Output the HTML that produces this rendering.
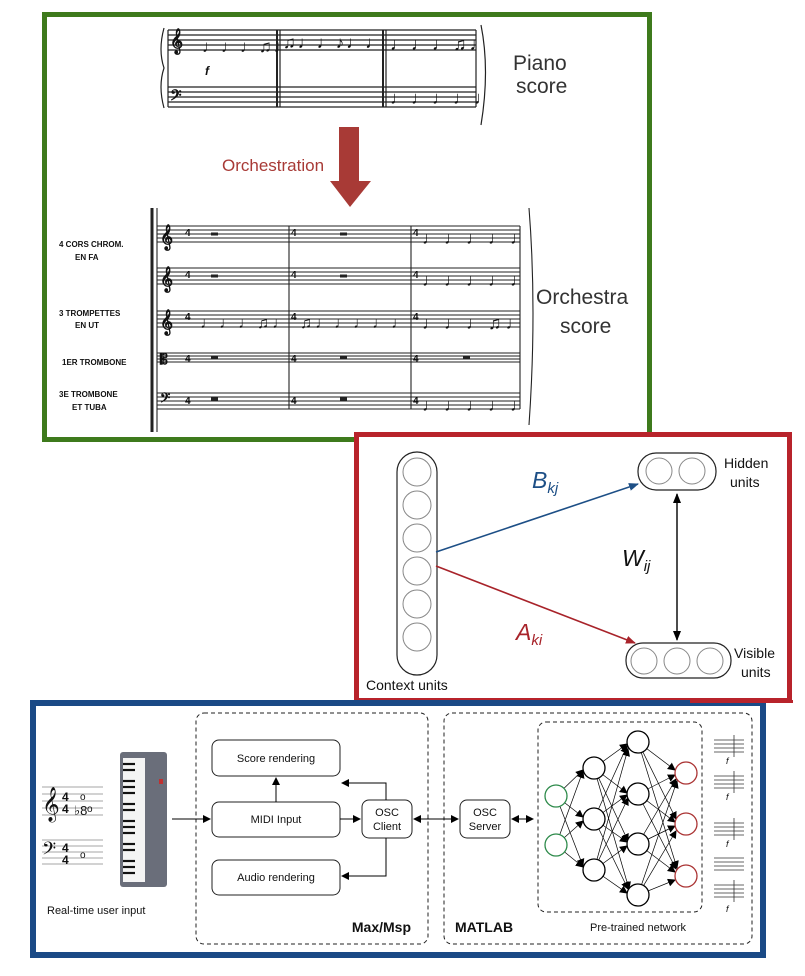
<!DOCTYPE html>
<html><head><meta charset="utf-8"><style>
html,body{margin:0;padding:0;background:#fff;}
svg{display:block;}
text{font-family:"Liberation Sans",sans-serif;}
</style></head><body>
<svg width="805" height="976" viewBox="0 0 805 976" xmlns="http://www.w3.org/2000/svg">
<defs>
<marker id="ak" markerWidth="8" markerHeight="8" refX="7" refY="4" orient="auto-start-reverse" markerUnits="userSpaceOnUse"><path d="M0,0 L8,4 L0,8 z" fill="#000"/></marker>
<marker id="ab" markerWidth="10" markerHeight="8" refX="9" refY="4" orient="auto" markerUnits="userSpaceOnUse"><path d="M0,0 L10,4 L0,8 z" fill="#1d4f86"/></marker>
<marker id="ar" markerWidth="10" markerHeight="8" refX="9" refY="4" orient="auto" markerUnits="userSpaceOnUse"><path d="M0,0 L10,4 L0,8 z" fill="#a8232a"/></marker>
<marker id="ak2" markerWidth="10" markerHeight="8" refX="9" refY="4" orient="auto-start-reverse" markerUnits="userSpaceOnUse"><path d="M0,0 L10,4 L0,8 z" fill="#000"/></marker>
</defs>

<!-- GREEN PANEL -->
<rect x="44.5" y="14.5" width="605" height="425" fill="#fff" stroke="#3e7a1c" stroke-width="5"/>

<!-- piano score -->
<g stroke="#222" stroke-width="1.2">
  <line x1="168" y1="30" x2="476" y2="30"/><line x1="168" y1="35" x2="476" y2="35"/><line x1="168" y1="40" x2="476" y2="40"/><line x1="168" y1="45" x2="476" y2="45"/><line x1="168" y1="50" x2="476" y2="50"/>
  <line x1="168" y1="87" x2="476" y2="87"/><line x1="168" y1="92" x2="476" y2="92"/><line x1="168" y1="97" x2="476" y2="97"/><line x1="168" y1="102" x2="476" y2="102"/><line x1="168" y1="107" x2="476" y2="107"/>
  <line x1="168" y1="30" x2="168" y2="107"/>
  <line x1="277" y1="30" x2="277" y2="107" stroke-width="2"/><line x1="280" y1="30" x2="280" y2="107"/>
  <line x1="383" y1="30" x2="383" y2="107" stroke-width="2"/><line x1="386" y1="30" x2="386" y2="107"/>
  <line x1="476" y1="30" x2="476" y2="107"/>
  <path d="M164,28 Q158,50 164,68 Q158,86 164,108" fill="none"/>
  <path d="M481,25 Q490,70 481,125" fill="none"/>
</g>
<g fill="#111" font-family="Liberation Serif,serif" font-weight="bold">
  <text x="170" y="48" font-size="22">𝄞</text>
  <text x="170" y="103" font-size="18">𝄢</text>
  <text x="202" y="52" font-size="17" letter-spacing="2">♩♩♩♫♩</text>
  <text x="283" y="48" font-size="17" letter-spacing="2">♫♩♩♪♩♩</text>
  <text x="390" y="50" font-size="18" letter-spacing="3">♩♩♩♫♩</text>
  <text x="390" y="104" font-size="18" letter-spacing="3">♩♩♩♩♩</text>
  <text x="205" y="75" font-size="12" font-style="italic">f</text>
</g>
<text x="513" y="70" font-size="21" fill="#333">Piano</text>
<text x="516" y="93" font-size="21" fill="#333">score</text>

<!-- arrow -->
<rect x="339" y="127" width="20" height="55" fill="#a83a36"/>
<polygon points="330,181 371,181 350,207" fill="#a83a36"/>
<text x="222" y="171" font-size="17" fill="#a83a36">Orchestration</text>

<!-- orchestra score -->
<g stroke="#222" stroke-width="1.1">
  <line x1="152" y1="208" x2="152" y2="432" stroke-width="3"/>
  <line x1="157" y1="208" x2="157" y2="432"/>
  <line x1="157" y1="226" x2="520" y2="226"/><line x1="157" y1="230" x2="520" y2="230"/><line x1="157" y1="234" x2="520" y2="234"/><line x1="157" y1="238" x2="520" y2="238"/><line x1="157" y1="242" x2="520" y2="242"/>
  <line x1="157" y1="268" x2="520" y2="268"/><line x1="157" y1="272" x2="520" y2="272"/><line x1="157" y1="276" x2="520" y2="276"/><line x1="157" y1="280" x2="520" y2="280"/><line x1="157" y1="284" x2="520" y2="284"/>
  <line x1="157" y1="311" x2="520" y2="311"/><line x1="157" y1="315" x2="520" y2="315"/><line x1="157" y1="319" x2="520" y2="319"/><line x1="157" y1="323" x2="520" y2="323"/><line x1="157" y1="327" x2="520" y2="327"/>
  <line x1="157" y1="353" x2="520" y2="353"/><line x1="157" y1="356" x2="520" y2="356"/><line x1="157" y1="359" x2="520" y2="359"/><line x1="157" y1="362" x2="520" y2="362"/>
  <line x1="157" y1="393" x2="520" y2="393"/><line x1="157" y1="397" x2="520" y2="397"/><line x1="157" y1="401" x2="520" y2="401"/><line x1="157" y1="405" x2="520" y2="405"/><line x1="157" y1="409" x2="520" y2="409"/>
  <line x1="289" y1="226" x2="289" y2="409"/><line x1="411" y1="226" x2="411" y2="409"/><line x1="520" y1="226" x2="520" y2="409"/>
  <path d="M529,208 Q537,310 529,425" fill="none"/>
</g>
<g stroke="#222" stroke-width="3">
  <line x1="211" y1="234" x2="218" y2="234"/><line x1="340" y1="234" x2="347" y2="234"/>
  <line x1="211" y1="276" x2="218" y2="276"/><line x1="340" y1="276" x2="347" y2="276"/>
  <line x1="211" y1="357" x2="218" y2="357"/><line x1="340" y1="357" x2="347" y2="357"/><line x1="463" y1="357" x2="470" y2="357"/>
  <line x1="211" y1="399" x2="218" y2="399"/><line x1="340" y1="399" x2="347" y2="399"/>
</g>
<g fill="#111" font-family="Liberation Serif,serif" font-weight="bold">
  <text x="160" y="244" font-size="22">𝄞</text>
  <text x="160" y="286" font-size="22">𝄞</text>
  <text x="160" y="329" font-size="22">𝄞</text>
  <text x="160" y="405" font-size="16">𝄢</text>
  <text x="160" y="364" font-size="14">𝄡</text>
  <g font-size="10">
   <text x="185" y="236">4</text><text x="185" y="278">4</text><text x="185" y="320">4</text><text x="185" y="362">4</text><text x="185" y="404">4</text>
   <text x="291" y="236">4</text><text x="291" y="278">4</text><text x="291" y="320">4</text><text x="291" y="362">4</text><text x="291" y="404">4</text>
   <text x="413" y="236">4</text><text x="413" y="278">4</text><text x="413" y="320">4</text><text x="413" y="362">4</text><text x="413" y="404">4</text>
  </g>
  <text x="422" y="244" font-size="18" letter-spacing="4">♩♩♩♩♩</text>
  <text x="422" y="286" font-size="18" letter-spacing="4">♩♩♩♩♩</text>
  <text x="200" y="328" font-size="16" letter-spacing="3">♩♩♩♫♩</text>
  <text x="300" y="328" font-size="16" letter-spacing="3">♫♩♩♩♩♩</text>
  <text x="422" y="329" font-size="18" letter-spacing="4">♩♩♩♫♩</text>
  <text x="422" y="411" font-size="18" letter-spacing="4">♩♩♩♩♩</text>
  <g font-size="8" font-family="Liberation Mono,monospace">
   <text x="59" y="247">4 CORS CHROM.</text><text x="75" y="260">EN FA</text>
   <text x="59" y="316">3 TROMPETTES</text><text x="75" y="328">EN UT</text>
   <text x="62" y="365">1ER TROMBONE</text>
   <text x="59" y="397">3E TROMBONE</text><text x="72" y="410">ET TUBA</text>
  </g>
</g>
<text x="536" y="304" font-size="21" fill="#333">Orchestra</text>
<text x="560" y="333" font-size="21" fill="#333">score</text>

<!-- RED PANEL -->
<rect x="356.5" y="434.5" width="433" height="266" fill="#fff" stroke="#b8232b" stroke-width="5"/>
<rect x="397" y="452" width="40" height="223" rx="20" fill="none" stroke="#222" stroke-width="1.2"/>
<g fill="none" stroke="#888" stroke-width="1">
 <circle cx="417" cy="472" r="14"/><circle cx="417" cy="505" r="14"/><circle cx="417" cy="538" r="14"/><circle cx="417" cy="571" r="14"/><circle cx="417" cy="604" r="14"/><circle cx="417" cy="637" r="14"/>
 <circle cx="659" cy="471" r="13"/><circle cx="692" cy="471" r="13"/>
 <circle cx="644" cy="661" r="13"/><circle cx="677" cy="661" r="13"/><circle cx="710" cy="661" r="13"/>
</g>
<rect x="638" y="453" width="78" height="37" rx="18" fill="none" stroke="#222" stroke-width="1.2"/>
<rect x="626" y="643" width="105" height="35" rx="17" fill="none" stroke="#222" stroke-width="1.2"/>
<line x1="436" y1="552" x2="638" y2="484" stroke="#1d4f86" stroke-width="1.6" marker-end="url(#ab)"/>
<line x1="436" y1="566" x2="635" y2="643" stroke="#a8232a" stroke-width="1.6" marker-end="url(#ar)"/>
<line x1="677" y1="494" x2="677" y2="640" stroke="#000" stroke-width="1.4" marker-start="url(#ak2)" marker-end="url(#ak2)"/>
<text x="532" y="488" font-size="23" font-style="italic" font-family="Liberation Serif,serif" fill="#1d4f86">B<tspan font-size="15" dy="5">kj</tspan></text>
<text x="622" y="566" font-size="23" font-style="italic" font-family="Liberation Serif,serif" fill="#111">W<tspan font-size="15" dy="5">ij</tspan></text>
<text x="516" y="640" font-size="23" font-style="italic" font-family="Liberation Serif,serif" fill="#a8232a">A<tspan font-size="15" dy="5">ki</tspan></text>
<text x="724" y="468" font-size="14" fill="#111">Hidden</text><text x="730" y="487" font-size="14" fill="#111">units</text>
<text x="734" y="658" font-size="14" fill="#111">Visible</text><text x="741" y="677" font-size="14" fill="#111">units</text>
<text x="366" y="690" font-size="14" fill="#111">Context units</text>

<!-- BLUE PANEL -->
<rect x="33" y="703" width="730" height="252" fill="#fff" stroke="#1a4a86" stroke-width="6"/>
<rect x="690" y="700" width="103" height="3" fill="#b8232b"/>

<!-- left staffs -->
<g stroke="#888" stroke-width="0.8">
 <line x1="42" y1="787" x2="103" y2="787"/><line x1="42" y1="794" x2="103" y2="794"/><line x1="42" y1="801" x2="103" y2="801"/><line x1="42" y1="808" x2="103" y2="808"/><line x1="42" y1="815" x2="103" y2="815"/>
 <line x1="42" y1="840" x2="103" y2="840"/><line x1="42" y1="846" x2="103" y2="846"/><line x1="42" y1="852" x2="103" y2="852"/><line x1="42" y1="858" x2="103" y2="858"/><line x1="42" y1="864" x2="103" y2="864"/>
</g>
<g fill="#111" font-family="Liberation Serif,serif">
 <text x="42" y="814" font-size="30">𝄞</text>
 <text x="42" y="858" font-size="22">𝄢</text>
 <text x="62" y="801" font-size="12" font-weight="bold">4</text><text x="62" y="813" font-size="12" font-weight="bold">4</text>
 <text x="62" y="852" font-size="12" font-weight="bold">4</text><text x="62" y="864" font-size="12" font-weight="bold">4</text>
 <text x="80" y="800" font-size="10">o</text>
 <text x="74" y="815" font-size="13">♭8</text><text x="87" y="812" font-size="10">o</text>
 <text x="80" y="858" font-size="10">o</text>
</g>
<!-- keyboard -->
<rect x="120" y="752" width="47" height="135" rx="3" fill="#6a6e7a"/>
<rect x="123" y="758" width="22" height="124" fill="#f4f4f4"/>
<g stroke="#111" stroke-width="2.2">
 <line x1="123" y1="764" x2="135" y2="764"/><line x1="123" y1="770" x2="135" y2="770"/><line x1="123" y1="781" x2="135" y2="781"/><line x1="123" y1="787" x2="135" y2="787"/><line x1="123" y1="793" x2="135" y2="793"/>
 <line x1="123" y1="804" x2="135" y2="804"/><line x1="123" y1="810" x2="135" y2="810"/><line x1="123" y1="821" x2="135" y2="821"/><line x1="123" y1="827" x2="135" y2="827"/><line x1="123" y1="833" x2="135" y2="833"/>
 <line x1="123" y1="844" x2="135" y2="844"/><line x1="123" y1="850" x2="135" y2="850"/><line x1="123" y1="861" x2="135" y2="861"/><line x1="123" y1="867" x2="135" y2="867"/><line x1="123" y1="873" x2="135" y2="873"/>
</g>
<rect x="159" y="779" width="4" height="5" fill="#c03030"/>
<text x="47" y="914" font-size="11" fill="#111">Real-time user input</text>

<!-- Max/Msp -->
<rect x="196" y="713" width="232" height="231" rx="8" fill="none" stroke="#222" stroke-dasharray="4,3"/>
<rect x="444" y="713" width="308" height="231" rx="8" fill="none" stroke="#222" stroke-dasharray="4,3"/>
<rect x="538" y="722" width="164" height="190" rx="8" fill="none" stroke="#222" stroke-dasharray="4,3"/>
<g fill="#fff" stroke="#222" stroke-width="1">
 <rect x="212" y="740" width="128" height="36" rx="7"/>
 <rect x="212" y="802" width="128" height="35" rx="7"/>
 <rect x="212" y="860" width="128" height="35" rx="7"/>
 <rect x="362" y="800" width="50" height="38" rx="7"/>
 <rect x="460" y="800" width="50" height="38" rx="7"/>
</g>
<g font-size="11" fill="#111" text-anchor="middle">
 <text x="276" y="762">Score rendering</text>
 <text x="276" y="823">MIDI Input</text>
 <text x="276" y="881">Audio rendering</text>
 <text x="387" y="816">OSC</text><text x="387" y="830">Client</text>
 <text x="485" y="816">OSC</text><text x="485" y="830">Server</text>
</g>
<g stroke="#000" stroke-width="1" fill="none">
 <line x1="172" y1="819" x2="210" y2="819" marker-end="url(#ak)"/>
 <line x1="340" y1="819" x2="360" y2="819" marker-end="url(#ak)"/>
 <line x1="276" y1="802" x2="276" y2="778" marker-end="url(#ak)"/>
 <polyline points="386,800 386,783 342,783" marker-end="url(#ak)"/>
 <polyline points="386,838 386,876 342,876" marker-end="url(#ak)"/>
 <line x1="414" y1="819" x2="458" y2="819" marker-start="url(#ak)" marker-end="url(#ak)"/>
 <line x1="512" y1="819" x2="533" y2="819" marker-start="url(#ak)" marker-end="url(#ak)"/>
</g>
<!-- network -->
<g stroke="#000" stroke-width="0.7" marker-end="url(#ak)">
 <line x1="556" y1="796" x2="583" y2="770"/><line x1="556" y1="796" x2="583" y2="817"/><line x1="556" y1="796" x2="583" y2="866"/>
 <line x1="556" y1="845" x2="583" y2="771"/><line x1="556" y1="845" x2="583" y2="821"/><line x1="556" y1="845" x2="583" y2="867"/>
 <line x1="594" y1="768" x2="627" y2="744"/><line x1="594" y1="768" x2="627" y2="793"/><line x1="594" y1="768" x2="628" y2="841"/><line x1="594" y1="768" x2="629" y2="889"/>
 <line x1="594" y1="819" x2="627" y2="746"/><line x1="594" y1="819" x2="627" y2="795"/><line x1="594" y1="819" x2="627" y2="842"/><line x1="594" y1="819" x2="628" y2="889"/>
 <line x1="594" y1="870" x2="628" y2="749"/><line x1="594" y1="870" x2="628" y2="798"/><line x1="594" y1="870" x2="627" y2="846"/><line x1="594" y1="870" x2="627" y2="893"/>
 <line x1="638" y1="742" x2="675" y2="770"/><line x1="638" y1="742" x2="676" y2="819"/><line x1="638" y1="742" x2="677" y2="868"/>
 <line x1="638" y1="794" x2="675" y2="775"/><line x1="638" y1="794" x2="675" y2="822"/><line x1="638" y1="794" x2="676" y2="869"/>
 <line x1="638" y1="844" x2="676" y2="779"/><line x1="638" y1="844" x2="675" y2="826"/><line x1="638" y1="844" x2="675" y2="872"/>
 <line x1="638" y1="895" x2="677" y2="781"/><line x1="638" y1="895" x2="676" y2="831"/><line x1="638" y1="895" x2="675" y2="880"/>
</g>
<g fill="#fff" stroke-width="1.3">
 <circle cx="556" cy="796" r="11" stroke="#2d8a4a"/><circle cx="556" cy="845" r="11" stroke="#2d8a4a"/>
 <circle cx="594" cy="768" r="11" stroke="#000"/><circle cx="594" cy="819" r="11" stroke="#000"/><circle cx="594" cy="870" r="11" stroke="#000"/>
 <circle cx="638" cy="742" r="11" stroke="#000"/><circle cx="638" cy="794" r="11" stroke="#000"/><circle cx="638" cy="844" r="11" stroke="#000"/><circle cx="638" cy="895" r="11" stroke="#000"/>
 <circle cx="686" cy="773" r="11" stroke="#a33"/><circle cx="686" cy="824" r="11" stroke="#a33"/><circle cx="686" cy="876" r="11" stroke="#a33"/>
</g>
<!-- small score right -->
<g stroke="#333" stroke-width="0.8">
 <line x1="714" y1="740" x2="744" y2="740"/><line x1="714" y1="744" x2="744" y2="744"/><line x1="714" y1="748" x2="744" y2="748"/><line x1="714" y1="752" x2="744" y2="752"/>
 <line x1="714" y1="776" x2="744" y2="776"/><line x1="714" y1="780" x2="744" y2="780"/><line x1="714" y1="784" x2="744" y2="784"/><line x1="714" y1="788" x2="744" y2="788"/>
 <line x1="714" y1="823" x2="744" y2="823"/><line x1="714" y1="827" x2="744" y2="827"/><line x1="714" y1="831" x2="744" y2="831"/><line x1="714" y1="835" x2="744" y2="835"/>
 <line x1="714" y1="858" x2="744" y2="858"/><line x1="714" y1="862" x2="744" y2="862"/><line x1="714" y1="866" x2="744" y2="866"/><line x1="714" y1="870" x2="744" y2="870"/>
 <line x1="714" y1="885" x2="744" y2="885"/><line x1="714" y1="889" x2="744" y2="889"/><line x1="714" y1="893" x2="744" y2="893"/><line x1="714" y1="897" x2="744" y2="897"/>
 <line x1="734" y1="735" x2="734" y2="757"/><line x1="734" y1="771" x2="734" y2="793"/><line x1="734" y1="818" x2="734" y2="840"/><line x1="734" y1="880" x2="734" y2="902"/>
</g>
<g font-size="9" font-style="italic" fill="#111" font-family="Liberation Serif,serif">
 <text x="726" y="764">f</text><text x="726" y="800">f</text><text x="726" y="847">f</text><text x="726" y="912">f</text>
</g>
<text x="411" y="932" font-size="14" font-weight="bold" text-anchor="end" fill="#111">Max/Msp</text>
<text x="455" y="932" font-size="14" font-weight="bold" fill="#111">MATLAB</text>
<text x="590" y="931" font-size="11" fill="#111">Pre-trained network</text>
</svg>
</body></html>
